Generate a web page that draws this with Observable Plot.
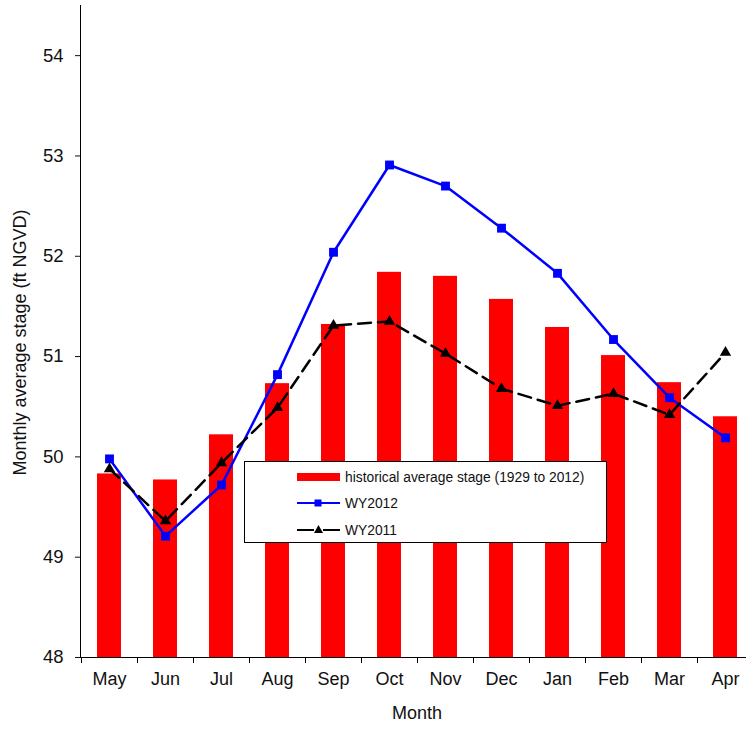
<!DOCTYPE html>
<html><head><meta charset="utf-8">
<script src="https://cdn.jsdelivr.net/npm/d3@7"></script>
<script src="https://cdn.jsdelivr.net/npm/@observablehq/plot@0.6"></script>
<style>
body{margin:0;background:#fff;}
#wrap{position:relative;width:746px;height:729px;overflow:hidden;font-family:"Liberation Sans",Arial,sans-serif;}
#legend{position:absolute;left:244px;top:461px;width:363px;height:82px;border:1px solid #000;background:#fff;box-sizing:border-box;}
#legend svg{position:absolute;left:0;top:0;}
</style></head>
<body><div id="wrap"></div>
<script>
const months = ["May","Jun","Jul","Aug","Sep","Oct","Nov","Dec","Jan","Feb","Mar","Apr"];
const historical = [49.83, 49.77, 50.22, 50.73, 51.32, 51.84, 51.80, 51.57, 51.29, 51.01, 50.74, 50.40];
const wy2012 = [49.98, 49.21, 49.72, 50.82, 52.04, 52.91, 52.70, 52.28, 51.83, 51.17, 50.59, 50.19];
const wy2011 = [49.88, 49.36, 49.94, 50.49, 51.31, 51.35, 51.03, 50.68, 50.51, 50.63, 50.42, 51.04];
const yTicks = [48, 49, 50, 51, 52, 53, 54];
const seriesNames = ["historical average stage (1929 to 2012)", "WY2012", "WY2011"];
const yLabel = "Monthly average stage (ft NGVD)";
const xLabel = "Month";

const histData = months.map((m, i) => ({month: m, value: historical[i]}));
const d2012 = months.map((m, i) => ({month: m, value: wy2012[i]}));
const d2011 = months.map((m, i) => ({month: m, value: wy2011[i]}));

const font = '"Liberation Sans", Arial, sans-serif';
const chart = Plot.plot({
  width: 746, height: 729,
  marginLeft: 80, marginRight: -7, marginTop: 5, marginBottom: 72,
  style: {fontFamily: font, fontSize: "18px", color: "#111", background: "#fff", overflow: "visible"},
  x: {type: "band", domain: months, padding: 0, label: null},
  y: {domain: [48, 54.5], label: null},
  marks: [
    Plot.barY(histData, {x: "month", y1: 48, y2: "value", fill: "#ff0000", insetLeft: 16, insetRight: 16}),
    Plot.lineY(d2012, {x: "month", y: "value", stroke: "#0000ff", strokeWidth: 2.5}),
    Plot.dot(d2012, {x: "month", y: "value", symbol: "square", r: 5, fill: "#0000ff"}),
    Plot.lineY(d2011, {x: "month", y: "value", stroke: "#000", strokeWidth: 2.5, strokeDasharray: "13,7"}),
    Plot.dot(d2011, {x: "month", y: "value", symbol: "triangle", r: 4.2, fill: "#000"}),
    Plot.ruleY([48], {stroke: "#000", strokeWidth: 1}),
    Plot.frame({anchor: "left", stroke: "#000", strokeWidth: 1}),
    Plot.axisY({ticks: yTicks, tickFormat: d => String(d), tickSize: 5, tickPadding: 12, fontSize: 18.5, label: null}),
    Plot.axisX({tickSize: 0, tickPadding: 15, fontSize: 18, label: null}),
    Plot.ruleX(months, {x: d => d, y1: 48, y2: 48, dx: -28, insetBottom: -6, stroke: "#000"}),
    Plot.text([yLabel], {frameAnchor: "left", textAnchor: "middle", rotate: -90, dx: -60, dy: 11, fontSize: 18, fill: "#111"}),
    Plot.text([xLabel], {frameAnchor: "bottom", dy: 61, fontSize: 18, fill: "#111"})
  ]
});
const wrap = document.getElementById("wrap");
wrap.appendChild(chart);

const legend = document.createElement("div");
legend.id = "legend";
legend.innerHTML = `<svg width="363" height="82" font-family='${font}' font-size="13.8">
  <rect x="52" y="11" width="43" height="8" fill="#ff0000"></rect>
  <text x="100" y="15" dominant-baseline="central" fill="#111">${seriesNames[0]}</text>
  <line x1="52" x2="95" y1="41" y2="41" stroke="#0000ff" stroke-width="2"></line>
  <rect x="69.5" y="37.5" width="7" height="7" fill="#0000ff"></rect>
  <text x="100" y="41" dominant-baseline="central" fill="#111">${seriesNames[1]}</text>
  <line x1="52" x2="69" y1="68" y2="68" stroke="#000" stroke-width="2"></line>
  <line x1="78" x2="95" y1="68" y2="68" stroke="#000" stroke-width="2"></line>
  <path d="M73.5,63 L78,71 L69,71 Z" fill="#000"></path>
  <text x="100" y="68" dominant-baseline="central" fill="#111">${seriesNames[2]}</text>
</svg>`;
wrap.appendChild(legend);
</script>
</body></html>
